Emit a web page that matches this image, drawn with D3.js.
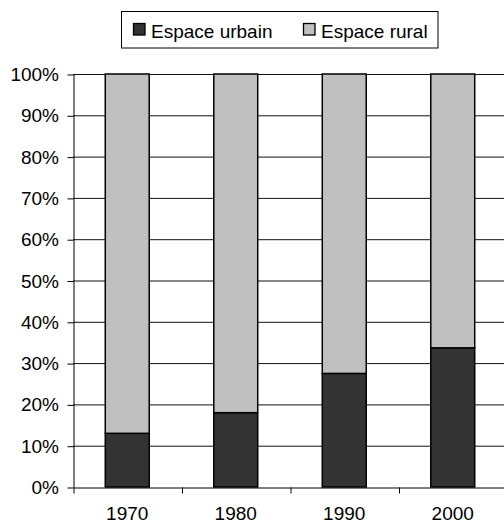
<!DOCTYPE html>
<html><head><meta charset="utf-8">
<script src="https://cdn.jsdelivr.net/npm/d3@7"></script>
<style>body{margin:0;background:#fff;} svg{display:block;}</style>
</head><body>
<svg id="c" width="504" height="524" font-family="'Liberation Sans', Arial, sans-serif"></svg>
<script>
const years = ["1970","1980","1990","2000"];
const urbain = [13, 18, 27.5, 33.7];
const rural = urbain.map(v => 100 - v);
const seriesNames = ["Espace urbain","Espace rural"];
const seriesColors = ["#333333","#c0c0c0"];
const yTicks = [0,10,20,30,40,50,60,70,80,90,100];

(function(){
const svg = d3.select("#c");
const pL = 73, pR = 507, pT = 74, pB = 487;
const FS = 19;
const x = d3.scaleBand().domain(years).range([pL, pR]).paddingInner(0.595).paddingOuter(0.2975);
const y = d3.scaleLinear().domain([0,100]).range([pB, pT]);

// gridlines
svg.append("g").selectAll("line").data(yTicks.slice(1)).join("line")
  .attr("x1", pL).attr("x2", 504).attr("y1", d=>y(d)+0.5).attr("y2", d=>y(d)+0.5)
  .attr("stroke", "#111").attr("stroke-width", 1);

const data = years.map((yr,i)=>({year:yr, urbain:urbain[i], rural:rural[i]}));
const stack = d3.stack().keys(["urbain","rural"])(data);
svg.append("g").selectAll("g").data(stack).join("g")
  .attr("fill", (d,i)=>seriesColors[i])
  .selectAll("rect").data(d=>d).join("rect")
  .attr("x", d=>x(d.data.year)).attr("width", x.bandwidth())
  .attr("y", d=>y(d[1])).attr("height", d=>y(d[0])-y(d[1]))
  .attr("stroke","#000").attr("stroke-width",1.5);

// y axis
const yAxis = d3.axisLeft(y).tickValues(yTicks).tickFormat(d=>d+"%").tickSize(6).tickSizeOuter(0);
const gy = svg.append("g").attr("transform",`translate(${pL+0.5},0.5)`).call(yAxis);
gy.select(".domain").attr("stroke","#000");
gy.selectAll("text").attr("font-size",FS).attr("font-family","'Liberation Sans', Arial, sans-serif")
  .attr("fill","#000").attr("dx",-5.5);

// x axis
const xb = d3.scaleLinear().domain([0,4]).range([pL,pR]);
const gx = svg.append("g").attr("transform",`translate(0.5,${pB+0.5})`)
  .call(d3.axisBottom(xb).tickValues([0,1,2,3,4]).tickFormat("").tickSize(6).tickSizeOuter(0));
gx.select(".domain").attr("stroke","#000");
svg.append("g").selectAll("text").data(years).join("text")
  .attr("x", d=>x(d)+x.bandwidth()/2).attr("y", 520)
  .attr("text-anchor","middle").attr("font-size",FS).text(d=>d);

// legend
const lg = svg.append("g");
lg.append("rect").attr("x",121.5).attr("y",11.5).attr("width",316.5).attr("height",36.5)
  .attr("fill","#fff").attr("stroke","#000").attr("stroke-width",1);
const lx = [133, 303];
seriesNames.forEach((n,i)=>{
  lg.append("rect").attr("x",lx[i]+0.5).attr("y",23.5).attr("width",11.5).attr("height",11.5)
    .attr("fill",seriesColors[i]).attr("stroke","#000").attr("stroke-width",1.3);
  lg.append("text").attr("x",lx[i]+18).attr("y",37.5).attr("font-size",FS).text(n);
});
})();
</script>
</body></html>
